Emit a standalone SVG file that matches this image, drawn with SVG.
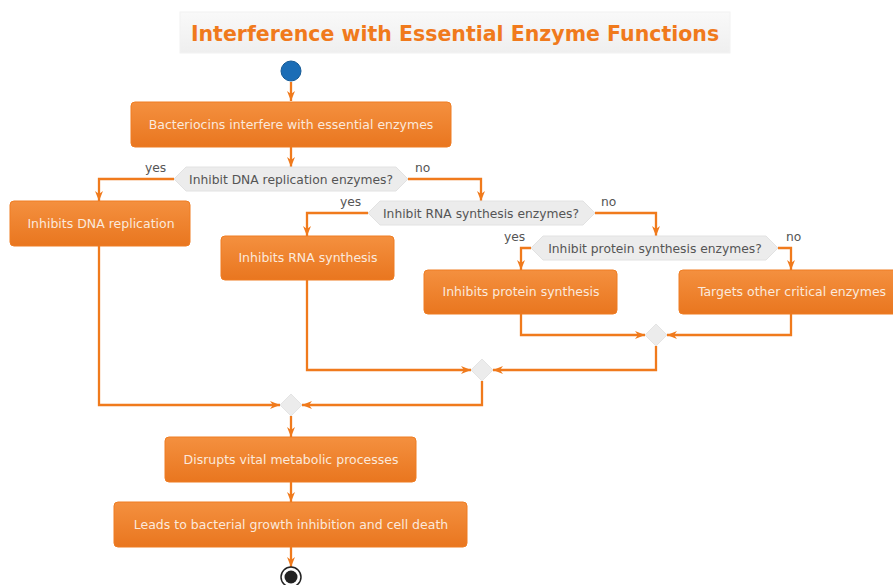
<svg xmlns="http://www.w3.org/2000/svg" width="893" height="585" viewBox="0 0 893 585">
<defs>
<linearGradient id="og" x1="0" y1="0" x2="0" y2="1">
<stop offset="0" stop-color="#f4903f"/>
<stop offset="1" stop-color="#e9761f"/>
</linearGradient>
<linearGradient id="tg" x1="0" y1="0" x2="0" y2="1">
<stop offset="0" stop-color="#f9f9f9"/>
<stop offset="1" stop-color="#efefef"/>
</linearGradient>
<marker id="ar" viewBox="0 0 10 8" refX="10" refY="4" markerWidth="10" markerHeight="8" markerUnits="userSpaceOnUse" orient="auto">
<path d="M0,0 L10,4 L0,8 L3,4 z" fill="#f07a1c"/>
</marker>
</defs>
<style>
.node rect{fill:url(#og);stroke:#ef7d22;stroke-width:1}
.node text{font-family:"DejaVu Sans",sans-serif;font-size:12.5px;fill:#fbe9dc;text-anchor:middle}
.dec polygon{fill:#ececec;stroke:#e2e2e2;stroke-width:1}
.dec text{font-family:"DejaVu Sans",sans-serif;font-size:12.3px;fill:#555;text-anchor:middle}
.lbl{font-family:"DejaVu Sans",sans-serif;font-size:12.3px;fill:#555}
.merge{fill:#ececec;stroke:#e4e4e4}
#edges path{fill:none;stroke:#f07a1c;stroke-width:2.3}
</style>
<rect width="893" height="585" fill="#ffffff"/>
<g id="title">
<rect x="180" y="12" width="550" height="41" fill="url(#tg)" stroke="#f2f2f2"/>
<text x="455" y="41" font-family="DejaVu Sans,sans-serif" font-weight="bold" font-size="20.5" fill="#f07a1c" text-anchor="middle">Interference with Essential Enzyme Functions</text>
</g>
<g id="edges">
<path d="M291,82 L291,101" marker-end="url(#ar)"/>
<path d="M291,147 L291,167" marker-end="url(#ar)"/>
<path d="M174,179 L99,179 L99,201" marker-end="url(#ar)"/>
<path d="M408,179 L481,179 L481,201" marker-end="url(#ar)"/>
<path d="M368,213 L307,213 L307,236" marker-end="url(#ar)"/>
<path d="M595,213 L656,213 L656,236" marker-end="url(#ar)"/>
<path d="M531,248 L521,248 L521,270" marker-end="url(#ar)"/>
<path d="M778,248 L791,248 L791,270" marker-end="url(#ar)"/>
<path d="M521,314 L521,335 L645,335" marker-end="url(#ar)"/>
<path d="M791,314 L791,335 L667,335" marker-end="url(#ar)"/>
<path d="M307,280 L307,370 L471,370" marker-end="url(#ar)"/>
<path d="M656,346 L656,370 L493,370" marker-end="url(#ar)"/>
<path d="M99,246 L99,405 L280,405" marker-end="url(#ar)"/>
<path d="M482,381 L482,405 L302,405" marker-end="url(#ar)"/>
<path d="M291,416 L291,437" marker-end="url(#ar)"/>
<path d="M291,482 L291,502" marker-end="url(#ar)"/>
<path d="M291,547 L291,567" marker-end="url(#ar)"/>
</g>
<g id="start"><circle cx="291" cy="71" r="10" fill="#1b6db6" stroke="#155a96" stroke-width="1"/></g>
<g id="n1" class="node"><rect x="131" y="102" width="320" height="45" rx="4"/><text x="291" y="129">Bacteriocins interfere with essential enzymes</text></g>
<g id="d1" class="dec"><polygon points="174,179 186,167 396,167 408,179 396,191 186,191"/><text x="291" y="183.5">Inhibit DNA replication enzymes?</text></g>
<text class="lbl" x="145" y="172">yes</text>
<text class="lbl" x="415" y="172">no</text>
<g id="n2" class="node"><rect x="10" y="201" width="180" height="45" rx="4"/><text x="101" y="228">Inhibits DNA replication</text></g>
<g id="d2" class="dec"><polygon points="368,213 380,201 583,201 595,213 583,225 380,225"/><text x="481" y="217.5">Inhibit RNA synthesis enzymes?</text></g>
<text class="lbl" x="340" y="206">yes</text>
<text class="lbl" x="601" y="206">no</text>
<g id="n3" class="node"><rect x="221" y="236" width="173" height="44" rx="4"/><text x="308" y="262">Inhibits RNA synthesis</text></g>
<g id="d3" class="dec"><polygon points="531,248 543,236 766,236 778,248 766,260 543,260"/><text x="655" y="252.5">Inhibit protein synthesis enzymes?</text></g>
<text class="lbl" x="504" y="241">yes</text>
<text class="lbl" x="786" y="241">no</text>
<g id="n4" class="node"><rect x="424" y="270" width="193" height="44" rx="4"/><text x="521" y="296">Inhibits protein synthesis</text></g>
<g id="n5" class="node"><rect x="679" y="270" width="226" height="44" rx="4"/><text x="792" y="296">Targets other critical enzymes</text></g>
<g id="m1"><polygon class="merge" points="656,324 667,335 656,346 645,335"/></g>
<g id="m2"><polygon class="merge" points="482,359 493,370 482,381 471,370"/></g>
<g id="m3"><polygon class="merge" points="291,394 302,405 291,416 280,405"/></g>
<g id="n6" class="node"><rect x="165" y="437" width="251" height="45" rx="4"/><text x="291" y="464">Disrupts vital metabolic processes</text></g>
<g id="n7" class="node"><rect x="114" y="502" width="353" height="45" rx="4"/><text x="291" y="529">Leads to bacterial growth inhibition and cell death</text></g>
<g id="end"><circle cx="291" cy="577" r="10" fill="#ffffff" stroke="#222" stroke-width="1.5"/><circle cx="291" cy="577" r="6.5" fill="#222"/></g>
</svg>
